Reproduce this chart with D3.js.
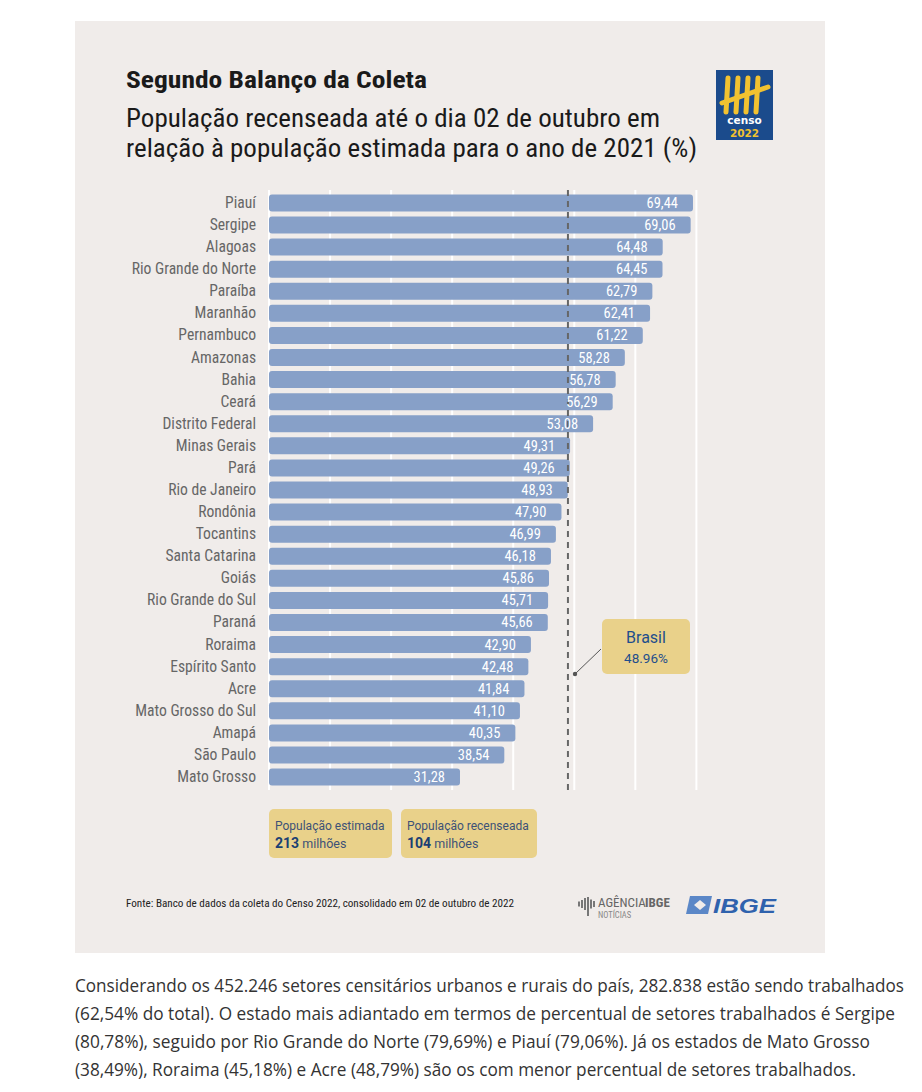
<!DOCTYPE html>
<html><head><meta charset="utf-8">
<script src="https://cdn.jsdelivr.net/npm/d3@7"></script>
<style>
body{margin:0;background:#fff;}
svg{display:block;}
.cond{font-family:"Liberation Sans Narrow","Roboto Condensed","Arial Narrow",Roboto,sans-serif;}
</style></head>
<body><svg id="chart" width="922" height="1092"></svg>
<script>
const states = ["Piauí","Sergipe","Alagoas","Rio Grande do Norte","Paraíba","Maranhão","Pernambuco","Amazonas","Bahia","Ceará","Distrito Federal","Minas Gerais","Pará","Rio de Janeiro","Rondônia","Tocantins","Santa Catarina","Goiás","Rio Grande do Sul","Paraná","Roraima","Espírito Santo","Acre","Mato Grosso do Sul","Amapá","São Paulo","Mato Grosso"];
const values = [69.44,69.06,64.48,64.45,62.79,62.41,61.22,58.28,56.78,56.29,53.08,49.31,49.26,48.93,47.90,46.99,46.18,45.86,45.71,45.66,42.90,42.48,41.84,41.10,40.35,38.54,31.28];
const gridTicks = [0,10,20,30,40,50,60,70];
const brasil = 48.96;
const brasilLabel = ["Brasil","48.96%"];
const title = "Segundo Balanço da Coleta";
const subtitle = ["População recenseada até o dia 02 de outubro em","relação à população estimada para o ano de 2021 (%)"];
const infoBoxes = [["População estimada","213"," milhões"],["População recenseada","104"," milhões"]];
const source = "Fonte: Banco de dados da coleta do Censo 2022, consolidado em 02 de outubro de 2022";
const bodyText = ["Considerando os 452.246 setores censitários urbanos e rurais do país, 282.838 estão sendo trabalhados","(62,54% do total). O estado mais adiantado em termos de percentual de setores trabalhados é Sergipe","(80,78%), seguido por Rio Grande do Norte (79,69%) e Piauí (79,06%). Já os estados de Mato Grosso","(38,49%), Roraima (45,18%) e Acre (48,79%) são os com menor percentual de setores trabalhados."];
const bodyWidths = [829,820,795,781];

const fmt = v => v.toFixed(2).replace(".", ",");
const svg = d3.select("#chart");

// panel
svg.append("rect").attr("x",75).attr("y",21).attr("width",750).attr("height",932).attr("fill","#f0ecea");

// title
svg.append("text").attr("class","cond").attr("x",126).attr("y",88).attr("font-size",23).attr("font-weight","bold").attr("fill","#1a1a1a")
  .attr("textLength",301).attr("lengthAdjust","spacingAndGlyphs").text(title);
subtitle.forEach((s,i)=>{
  svg.append("text").attr("class","cond").attr("x",126).attr("y",127+i*30).attr("font-size",25).attr("fill","#1a1a1a")
    .attr("textLength", i===0?534:571).attr("lengthAdjust","spacingAndGlyphs").text(s);
});

// censo logo
const lg = svg.append("g").attr("transform","translate(716,70)");
lg.append("rect").attr("width",57).attr("height",70).attr("fill","#1b4b8c");
[[12,8,10,42],[22,8,20,42],[32,8,30,42],[42,8,40,42]].forEach(d=>{
  lg.append("line").attr("x1",d[0]).attr("y1",d[1]).attr("x2",d[2]).attr("y2",d[3]).attr("stroke","#f2c230").attr("stroke-width",5).attr("stroke-linecap","round");
});
lg.append("line").attr("x1",6).attr("y1",33).attr("x2",52).attr("y2",17).attr("stroke","#f2c230").attr("stroke-width",5).attr("stroke-linecap","round");
lg.append("text").attr("x",28.5).attr("y",54).attr("text-anchor","middle").attr("font-family","DejaVu Sans").attr("font-weight","bold").attr("font-size",10.5).attr("fill","#fff").text("censo");
lg.append("text").attr("x",28.5).attr("y",67).attr("text-anchor","middle").attr("font-family","DejaVu Sans").attr("font-weight","bold").attr("font-size",10.5).attr("fill","#f2c230").text("2022");

// scales
const x = d3.scaleLinear().domain([0,70]).range([269,696.4]);
const y = d3.scaleBand().domain(states).range([190,790]).paddingInner(0.23).paddingOuter(0.2);

// gridlines
svg.append("g").selectAll("line").data(gridTicks).join("line")
  .attr("x1",d=>x(d)).attr("x2",d=>x(d)).attr("y1",190).attr("y2",790)
  .attr("stroke","#ffffff").attr("stroke-width",2);

// bars
svg.append("g").selectAll("rect").data(states).join("rect")
  .attr("x",x(0)).attr("y",d=>y(d)).attr("width",(d,i)=>x(values[i])-x(0)).attr("height",y.bandwidth())
  .attr("rx",3).attr("fill","#87a0c8");

// dashed Brasil line
svg.append("line").attr("x1",x(brasil)).attr("x2",x(brasil)).attr("y1",190).attr("y2",790)
  .attr("stroke","#666").attr("stroke-width",2).attr("stroke-dasharray","6,5");

// category labels
svg.append("g").selectAll("text").data(states).join("text").attr("class","cond")
  .attr("x",256).attr("y",d=>y(d)+y.bandwidth()/2+5).attr("text-anchor","end")
  .attr("font-size",15.6).attr("fill","#666").text(d=>d);

// value labels
svg.append("g").selectAll("text").data(states).join("text").attr("class","cond")
  .attr("x",(d,i)=>x(values[i])-15).attr("y",d=>y(d)+y.bandwidth()/2+5).attr("text-anchor","end")
  .attr("font-size",14.5).attr("fill","#ffffff").text((d,i)=>fmt(values[i]));

// Brasil callout
svg.append("line").attr("x1",575).attr("y1",674).attr("x2",601).attr("y2",649).attr("stroke","#555").attr("stroke-width",1);
svg.append("circle").attr("cx",575).attr("cy",674).attr("r",2.2).attr("fill","#555");
svg.append("rect").attr("x",602).attr("y",619).attr("width",88).attr("height",55).attr("rx",5).attr("fill","#e9d18a");
svg.append("text").attr("x",646).attr("y",643).attr("text-anchor","middle").attr("font-family","Roboto").attr("font-size",16).attr("fill","#1f4e8c").text(brasilLabel[0]);
svg.append("text").attr("x",646).attr("y",663).attr("text-anchor","middle").attr("font-family","Roboto").attr("font-size",13.5).attr("fill","#1f4e8c").text(brasilLabel[1]);

// info boxes
const bx = [[269,123],[401,136]];
infoBoxes.forEach((b,i)=>{
  svg.append("rect").attr("x",bx[i][0]).attr("y",809).attr("width",bx[i][1]).attr("height",49).attr("rx",5).attr("fill","#e9d18a");
  svg.append("text").attr("x",bx[i][0]+6).attr("y",830).attr("font-family","Roboto").attr("font-size",12).attr("fill","#3d5277").text(b[0]);
  const t = svg.append("text").attr("x",bx[i][0]+6).attr("y",848).attr("font-family","Roboto").attr("font-size",12.5).attr("fill","#3d5277");
  t.append("tspan").attr("font-weight","bold").attr("font-size",14).attr("fill","#1b3f73").text(b[1]);
  t.append("tspan").text(b[2]);
});

// source
svg.append("text").attr("class","cond").attr("x",126).attr("y",907).attr("font-size",11).attr("fill","#222")
  .attr("textLength",388).attr("lengthAdjust","spacingAndGlyphs").text(source);

// Agência IBGE logo (approx)
const ag = svg.append("g").attr("transform","translate(578,894)");
[0,3,6,9,12,15].forEach((d,i)=>{
  const h=[5,8,12,14,9,6][i];
  ag.append("rect").attr("x",d).attr("y",10-h/2).attr("width",2).attr("height",h).attr("fill","#777");
});
ag.append("rect").attr("x",9).attr("y",10).attr("width",2).attr("height",12).attr("fill","#777");
ag.append("text").attr("class","cond").attr("x",20).attr("y",13).attr("font-size",13).attr("fill","#666").text("AGÊNCIA");
ag.append("text").attr("class","cond").attr("x",67).attr("y",13).attr("font-size",13).attr("font-weight","bold").attr("fill","#666").text("IBGE");
ag.append("text").attr("class","cond").attr("x",20).attr("y",24).attr("font-size",8.5).attr("fill","#888").text("NOTÍCIAS");

// IBGE logo (approx)
const ib = svg.append("g").attr("transform","translate(686,896)");
ib.append("path").attr("d","M4,0 L26,0 L22,18 L0,18 Z").attr("fill","#5b87c7");
ib.append("path").attr("d","M8,9 L14,4 L20,9 L14,14 Z").attr("fill","#f0ecea");
ib.append("text").attr("x",27).attr("y",17).attr("font-family","Liberation Sans").attr("font-style","italic").attr("font-weight","bold").attr("font-size",21).attr("fill","#2f62ad")
  .attr("textLength",63).attr("lengthAdjust","spacingAndGlyphs").text("IBGE");

// body text
bodyText.forEach((s,i)=>{
  svg.append("text").attr("x",75).attr("y",992+i*28).attr("font-family","Open Sans").attr("font-size",17.5).attr("fill","#333")
    .attr("textLength",bodyWidths[i]).attr("lengthAdjust","spacingAndGlyphs").text(s);
});
</script></body></html>
